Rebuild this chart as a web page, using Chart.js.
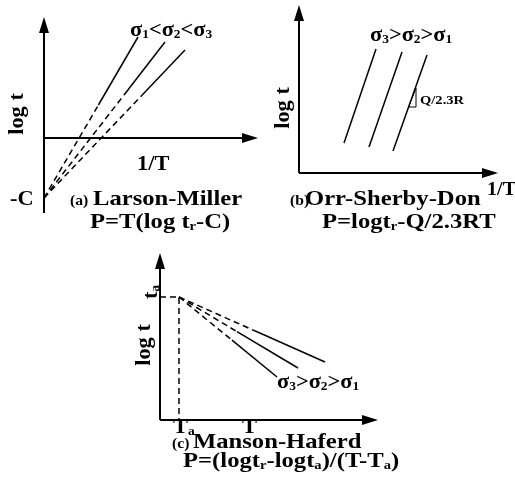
<!DOCTYPE html>
<html>
<head>
<meta charset="utf-8">
<script src="https://cdn.jsdelivr.net/npm/chart.js@4.4.0/dist/chart.umd.min.js"></script>
<style>
  body { margin: 0; background: #fff; }
  #wrap { position: relative; width: 515px; height: 490px; }
  #wrap canvas { position: absolute; left: 0; top: 0; }
</style>
</head>
<body>
<div id="wrap">
  <canvas id="chartA" width="515" height="490"></canvas>
  <canvas id="chartB" width="515" height="490"></canvas>
  <canvas id="chartC" width="515" height="490"></canvas>
</div>
<script>
document.addEventListener("DOMContentLoaded", function () {

// (a) Larson-Miller: log t vs 1/T, lines meet at -C  [start, end of dashes, end]
const larsonC = -3;
const larsonLines = [
    [{x: 0, y: larsonC}, {x: 2.72, y: 1.65}, {x: 4.7, y: 5.05}],
    [{x: 0, y: larsonC}, {x: 4.0, y: 2.15}, {x: 6.05, y: 4.8}],
    [{x: 0, y: larsonC}, {x: 4.91, y: 2.15}, {x: 7.05, y: 4.4}]
];

// (b) Orr-Sherby-Dorn: parallel lines
const orrLines = [
    [{x: 2.25, y: 1.5}, {x: 3.85, y: 6.2}],
    [{x: 3.5, y: 1.3}, {x: 5.15, y: 6.05}],
    [{x: 4.7, y: 1.1}, {x: 6.4, y: 5.9}]
];
const orrSlopeMark = [{x: 5.48, y: 3.3}, {x: 5.85, y: 3.3}, {x: 5.85, y: 4.25}, {x: 5.48, y: 3.3}];

// (c) Manson-Haferd: lines meet at (Ta, log ta)
const mansonTa = 0.95;
const mansonLogTa = 6.15;
const mansonLines = [
    [{x: mansonTa, y: mansonLogTa}, {x: 4.85, y: 4.41}, {x: 8.25, y: 2.9}],
    [{x: mansonTa, y: mansonLogTa}, {x: 3.85, y: 4.42}, {x: 6.9, y: 2.6}],
    [{x: mansonTa, y: mansonLogTa}, {x: 3.6, y: 3.99}, {x: 5.85, y: 2.15}]
];

const FONT = '"Liberation Serif", "DejaVu Serif", serif';

function runs(str) {
    const out = [];
    for (let i = 0; i < str.length; i++) {
        if (str[i] === '_') { out.push({t: str[i + 1], sub: true}); i++; }
        else if (out.length && !out[out.length - 1].sub) out[out.length - 1].t += str[i];
        else out.push({t: str[i], sub: false});
    }
    return out;
}

function drawText(ctx, str, x, y, size, o) {
    o = o || {};
    const sx = o.sx || 1.12;
    const rs = runs(str);
    const fontFor = sub => 'bold ' + (sub ? Math.round(size * 0.6) : size) + 'px ' + FONT;
    let w = 0;
    rs.forEach(r => { ctx.font = fontFor(r.sub); r.w = ctx.measureText(r.t).width; w += r.w; });
    ctx.save();
    ctx.translate(x, y);
    if (o.rot) ctx.rotate(-Math.PI / 2);
    ctx.scale(sx, 1);
    ctx.fillStyle = '#000';
    ctx.textBaseline = 'alphabetic';
    let cx = o.align === 'center' ? -w / 2 : 0;
    rs.forEach(r => {
        ctx.font = fontFor(r.sub);
        ctx.fillText(r.t, cx, r.sub ? size * 0.1 : 0);
        cx += r.w;
    });
    ctx.restore();
}

function arrow(ctx, x, y, dir) {
    const L = 16, H = 5;
    ctx.beginPath();
    if (dir === 'up') { ctx.moveTo(x, y); ctx.lineTo(x - H, y + L); ctx.lineTo(x + H, y + L); }
    else { ctx.moveTo(x, y); ctx.lineTo(x - L, y - H); ctx.lineTo(x - L, y + H); }
    ctx.closePath();
    ctx.fill();
}

const schemePlugin = {
    id: 'scheme',
    afterDraw(chart, args, opts) {
        const ctx = chart.ctx;
        const xs = chart.scales.x, ys = chart.scales.y;
        const x0 = xs.getPixelForValue(0), y0 = ys.getPixelForValue(0);
        ctx.save();
        ctx.strokeStyle = '#000';
        ctx.fillStyle = '#000';
        ctx.lineWidth = 2;
        ctx.beginPath();
        ctx.moveTo(x0, ys.getPixelForValue(ys.min));
        ctx.lineTo(x0, ys.getPixelForValue(ys.max) + 10);
        ctx.moveTo(x0, y0);
        ctx.lineTo(xs.getPixelForValue(xs.max) - 10, y0);
        ctx.stroke();
        arrow(ctx, x0, ys.getPixelForValue(ys.max), 'up');
        arrow(ctx, xs.getPixelForValue(xs.max), y0, 'right');
        (opts.texts || []).forEach(t => drawText(ctx, t[0], t[1], t[2], t[3], t[4]));
        ctx.restore();
    }
};

function lineSet(points, dashed) {
    return {
        data: points,
        showLine: true,
        borderColor: '#000',
        borderWidth: 1.5,
        pointRadius: 0,
        fill: false,
        segment: {
            borderDash: c => (dashed && c.p0DataIndex === 0) ? [6, 4] : undefined
        }
    };
}

function makePanel(id, pad, xr, yr, datasets, texts) {
    return new Chart(document.getElementById(id), {
        type: 'scatter',
        data: {datasets: datasets},
        options: {
            responsive: false,
            animation: false,
            devicePixelRatio: 1,
            layout: {padding: pad},
            scales: {
                x: {type: 'linear', min: xr[0], max: xr[1], display: false},
                y: {type: 'linear', min: yr[0], max: yr[1], display: false}
            },
            plugins: {legend: {display: false}, tooltip: {enabled: false}, scheme: {texts: texts}}
        },
        plugins: [schemePlugin]
    });
}

makePanel('chartA', {left: 44, top: 17, right: 257, bottom: 277}, [0, 10.7], [-3.75, 6.05],
    larsonLines.map(p => lineSet(p, true)),
    [
        ['σ_1<σ_2<σ_3', 130, 36, 20],
        ['log t', 23, 114, 20, {rot: true, align: 'center'}],
        ['1/T', 137, 170, 20],
        ['-C', 10, 205, 20],
        ['(a)', 70, 205, 14],
        ['Larson-Miller', 93, 205, 22],
        ['P=T(log t_r-C)', 90, 228, 22]
    ]);

makePanel('chartB', {left: 299, top: 5, right: 17, bottom: 317}, [0, 9.95], [0, 8.4],
    orrLines.map(p => lineSet(p, false)).concat([
        Object.assign(lineSet(orrSlopeMark, false), {borderWidth: 1})
    ]),
    [
        ['σ_3>σ_2>σ_1', 370, 41, 20],
        ['Q/2.3R', 420, 104, 13],
        ['log t', 289, 108, 20, {rot: true, align: 'center'}],
        ['1/T', 487, 195, 18],
        ['(b)', 290, 205, 14],
        ['Orr-Sherby-Don', 305, 205, 22],
        ['P=logt_r-Q/2.3RT', 322, 228, 22]
    ]);

makePanel('chartC', {left: 160, top: 253, right: 137, bottom: 70}, [0, 10.9], [0, 8.35],
    mansonLines.map(p => lineSet(p, true)).concat([
        lineSet([{x: 0, y: mansonLogTa}, {x: mansonTa, y: mansonLogTa}, {x: mansonTa, y: 0}], false)
    ]).map((d, i) => i === 3 ? Object.assign(d, {borderDash: [6, 4], segment: {}}) : d),
    [
        ['log t', 150, 345, 20, {rot: true, align: 'center'}],
        ['t_a', 157, 292, 20, {rot: true, align: 'center'}],
        ['σ_3>σ_2>σ_1', 277, 388, 20],
        ['T_a', 173, 433, 20],
        ['T', 242, 433, 20],
        ['(c)', 172, 448, 14],
        ['Manson-Haferd', 193, 448, 22],
        ['P=(logt_r-logt_a)/(T-T_a)', 183, 467, 22]
    ]);

});
</script>
</body>
</html>
